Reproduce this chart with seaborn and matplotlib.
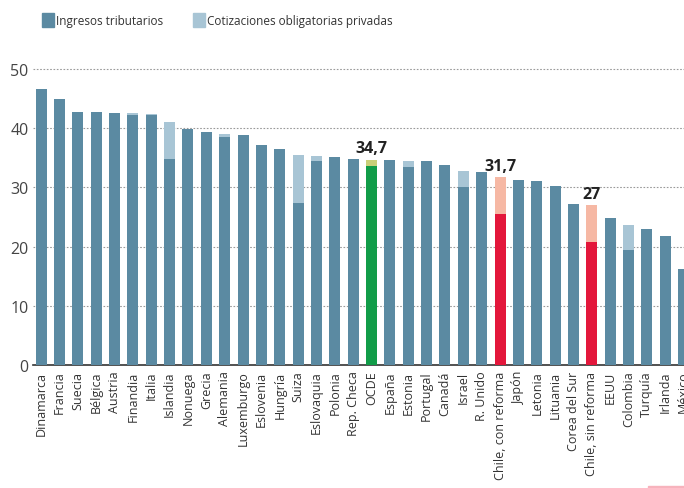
import pandas as pd
import matplotlib.pyplot as plt
import seaborn as sns
import numpy as np
from matplotlib.patches import Rectangle

# Data (% of GDP)
paises = ['Dinamarca', 'Francia', 'Suecia', 'Bélgica', 'Austria', 'Finandia', 'Italia',
          'Islandia', 'Nonuega', 'Grecia', 'Alemania', 'Luxemburgo', 'Eslovenia', 'Hungría',
          'Suiza', 'Eslovaquia', 'Polonia', 'Rep. Checa', 'OCDE', 'España', 'Estonia',
          'Portugal', 'Canadá', 'Israel', 'R. Unido', 'Chile, con reforma', 'Japón',
          'Letonia', 'Lituania', 'Corea del Sur', 'Chile, sin reforma', 'EEUU', 'Colombia',
          'Turquía', 'Irlanda', 'México']
ingresos = [46.6, 44.9, 42.8, 42.7, 42.5, 42.2, 42.2, 34.8, 39.9, 39.4, 38.5, 38.9,
            37.1, 36.4, 27.3, 34.5, 35.1, 34.8, 33.6, 34.6, 33.4, 34.4, 33.8, 30.1,
            32.6, 25.5, 31.3, 31.1, 30.2, 27.2, 20.7, 24.8, 19.5, 23.0, 21.8, 16.2]
cotizaciones = [0, 0, 0, 0, 0, 0.3, 0.2, 6.2, 0, 0, 0.5, 0,
                0, 0, 8.1, 0.8, 0, 0, 1.1, 0, 1.1, 0, 0, 2.7,
                0, 6.2, 0, 0, 0, 0, 6.3, 0, 4.2, 0, 0, 0]
etiquetas = {'OCDE': '34,7', 'Chile, con reforma': '31,7', 'Chile, sin reforma': '27'}

df = pd.DataFrame({'pais': paises, 'ingresos': ingresos, 'cotizaciones': cotizaciones})
df['total'] = df['ingresos'] + df['cotizaciones']

DARK, LIGHT = '#5b8aa2', '#a8c5d5'
base_col = {p: DARK for p in paises}
top_col = {p: LIGHT for p in paises}
base_col['OCDE'], top_col['OCDE'] = '#119c48', '#c9cf78'
for p in ['Chile, con reforma', 'Chile, sin reforma']:
    base_col[p], top_col[p] = '#e3173b', '#f6b8a4'

sns.set_theme(style='white')
plt.rcParams['font.family'] = ['Open Sans', 'DejaVu Sans']

fig = plt.figure(figsize=(6.84, 4.89), dpi=100)
ax = fig.add_axes([0.048, 0.2515, 0.952, 0.6115])

sns.barplot(data=df, x='pais', y='total', hue='pais', palette=top_col, legend=False,
            width=0.6, saturation=1, linewidth=0, ax=ax, zorder=2)
sns.barplot(data=df, x='pais', y='ingresos', hue='pais', palette=base_col, legend=False,
            width=0.6, saturation=1, linewidth=0, ax=ax, zorder=3)

for i, p in enumerate(paises):
    if p in etiquetas:
        ax.text(i, df['total'][i] + 0.6, etiquetas[p], ha='center', va='bottom',
                fontsize=11.5, fontweight='bold', color='#222222')

ax.set_xlim(-0.45, 35.02)
ax.set_ylim(0, 50.5)
ax.set_yticks([0, 10, 20, 30, 40, 50])
ax.yaxis.grid(True, linestyle=(0, (1.5, 1.5)), color='#9a9a9a', linewidth=0.8, zorder=0)
ax.set_axisbelow(True)
for s in ['top', 'right', 'left']:
    ax.spines[s].set_visible(False)
ax.spines['bottom'].set_color('#333333')
ax.spines['bottom'].set_linewidth(1.2)
ax.set_xlabel('')
ax.set_ylabel('')
ax.tick_params(axis='y', length=0, pad=3, labelsize=11.5, labelcolor='#444444')
ax.tick_params(axis='x', length=0, pad=4, labelsize=9, labelcolor='#333333')
ax.set_xticks(range(len(paises)))
ax.set_xticklabels(paises, rotation=90)

# legend
fig.patches.append(Rectangle((42 / 684, 1 - 28 / 489), 12 / 684, 14 / 489,
                             transform=fig.transFigure, color=DARK, figure=fig))
fig.text(56 / 684, 1 - 21 / 489, 'Ingresos tributarios', fontsize=8.5,
         color='#333333', va='center')
fig.patches.append(Rectangle((193 / 684, 1 - 28 / 489), 12 / 684, 14 / 489,
                             transform=fig.transFigure, color=LIGHT, figure=fig))
fig.text(207 / 684, 1 - 21 / 489, 'Cotizaciones obligatorias privadas', fontsize=8.5,
         color='#333333', va='center')

fig.patches.append(Rectangle((648 / 684, 0), 36 / 684, 2 / 489,
                             transform=fig.transFigure, color='#f7b3bd', figure=fig))

fig.savefig('out.png', dpi=100)
